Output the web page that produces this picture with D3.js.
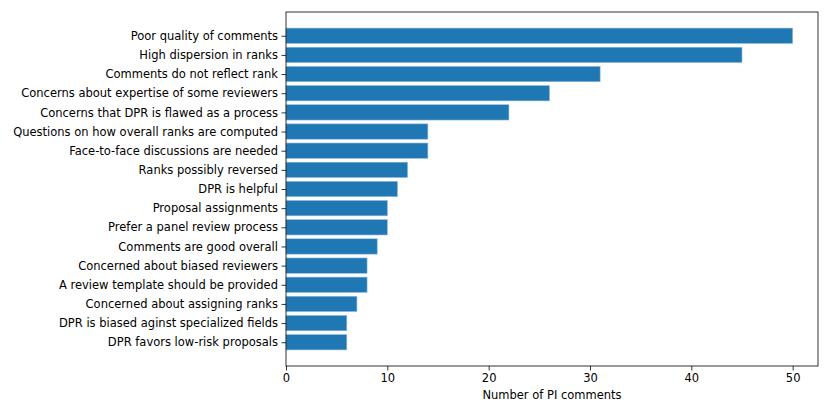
<!DOCTYPE html>
<html>
<head>
<meta charset="utf-8">
<script src="https://cdn.jsdelivr.net/npm/d3@7"></script>
<style>
  body { margin: 0; background: #fff; }
  text { font-family: "DejaVu Sans", sans-serif; }
</style>
</head>
<body>
<div id="chart"></div>
<script>
// Categories top to bottom, with their comment counts
const categories = [
  "Poor quality of comments",
  "High dispersion in ranks",
  "Comments do not reflect rank",
  "Concerns about expertise of some reviewers",
  "Concerns that DPR is flawed as a process",
  "Questions on how overall ranks are computed",
  "Face-to-face discussions are needed",
  "Ranks possibly reversed",
  "DPR is helpful",
  "Proposal assignments",
  "Prefer a panel review process",
  "Comments are good overall",
  "Concerned about biased reviewers",
  "A review template should be provided",
  "Concerned about assigning ranks",
  "DPR is biased aginst specialized fields",
  "DPR favors low-risk proposals"
];
const counts = [50, 45, 31, 26, 22, 14, 14, 12, 11, 10, 10, 9, 8, 8, 7, 6, 6];
const xTicks = [0, 10, 20, 30, 40, 50];

const width = 830;
const height = 415;
const margin = {left: 286, right: 12, top: 12, bottom: 49};
const fontSize = "11.5px";

const data = categories.map((c, i) => ({label: c, value: counts[i], pos: categories.length - 1 - i}));

let svg = d3.select("#chart")
  .append("svg")
  .attr("width", width)
  .attr("height", height);

// x scale with matplotlib-like 5% margin on the right
let xScale = d3.scaleLinear()
  .domain([0, d3.max(counts) * 1.05])
  .range([margin.left, width - margin.right]);

// y position in data units (bar height 0.8, 5% padding)
const n = categories.length;
const lo = -0.4, hi = n - 1 + 0.4, pad = (hi - lo) * 0.05;
let yScale = d3.scaleLinear()
  .domain([lo - pad, hi + pad])
  .range([height - margin.bottom, margin.top]);

// Bars
svg.selectAll(".bar")
  .data(data)
  .enter()
  .append("rect")
    .attr("class", "bar")
    .attr("x", xScale(0))
    .attr("y", d => yScale(d.pos + 0.4))
    .attr("width", d => xScale(d.value) - xScale(0))
    .attr("height", d => yScale(d.pos - 0.4) - yScale(d.pos + 0.4))
    .attr("fill", "#1f77b4")
    .attr("stroke", "#8fbcdc")
    .attr("stroke-width", 0.6);

// x axis
let xAxis = svg.append("g")
  .attr("transform", `translate(0,${height - margin.bottom})`)
  .call(d3.axisBottom(xScale).tickValues(xTicks).tickSize(4.5).tickPadding(3.5));

// y axis
let yAxis = svg.append("g")
  .attr("transform", `translate(${margin.left},0)`)
  .call(d3.axisLeft(yScale)
    .tickValues(data.map(d => d.pos))
    .tickFormat(p => categories[n - 1 - p])
    .tickSize(4.5).tickPadding(3.5));

[xAxis, yAxis].forEach(a => {
  a.select(".domain").remove();
  a.selectAll("text").attr("font-size", fontSize).attr("fill", "#000")
    .style("font-family", "'DejaVu Sans', sans-serif");
  a.selectAll("line").attr("stroke", "#000").attr("stroke-width", 0.8);
});

// Frame
svg.append("rect")
  .attr("x", margin.left)
  .attr("y", margin.top)
  .attr("width", width - margin.right - margin.left)
  .attr("height", height - margin.bottom - margin.top)
  .attr("fill", "none")
  .attr("stroke", "#000")
  .attr("stroke-width", 0.8);

// x label
svg.append("text")
  .attr("x", (margin.left + width - margin.right) / 2)
  .attr("y", height - margin.bottom + 33)
  .attr("text-anchor", "middle")
  .attr("font-size", fontSize)
  .text("Number of PI comments");
</script>
</body>
</html>
